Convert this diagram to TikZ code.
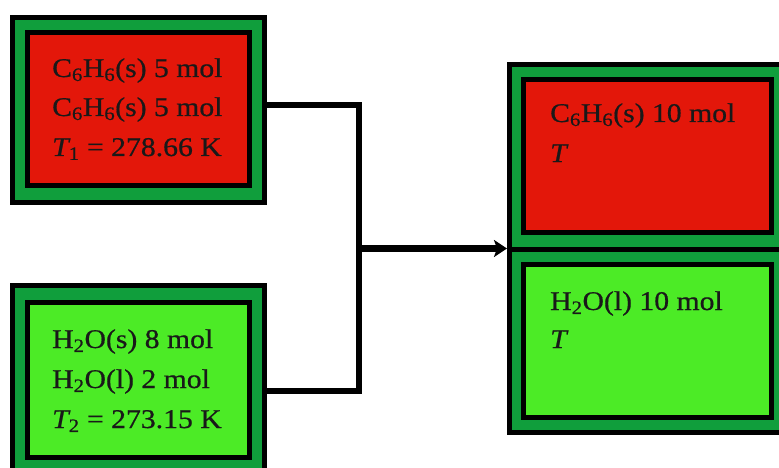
\documentclass[tikz,border=0pt]{standalone}
\usepackage{fontspec}
\setmainfont{Liberation Serif}
\newfontfamily\lblfont[FakeStretch=1.1,FakeBold=0.6]{Liberation Serif}
\usetikzlibrary{arrows.meta}
\definecolor{boxred}{HTML}{E3170A}
\definecolor{boxlime}{HTML}{4CEB26}
\definecolor{ringgreen}{HTML}{109E3C}
\begin{document}
\begin{tikzpicture}[x=1pt,y=-1pt,
  frame/.style={draw=black, line width=5pt, fill=ringgreen, rectangle, inner sep=0pt},
  core/.style={draw=black, line width=5pt, rectangle, inner sep=0pt},
  lbl/.style={anchor=base west, inner sep=0pt, font=\lblfont\fontsize{27}{32}\selectfont, text=black!90},
  link/.style={line width=6.5pt, line join=miter}]
\useasboundingbox (0,0) rectangle (779,468);
\clip (0,0) rectangle (779,468);
% left boxes
\node[frame, minimum width=252pt, minimum height=185pt] (tlo) at (138.5,110) {};
\node[core, fill=boxred, minimum width=222pt, minimum height=153pt] (tli) at (138.5,109) {};
\node[frame, minimum width=252pt, minimum height=192.5pt] (blo) at (138.5,381.75) {};
\node[core, fill=boxlime, minimum width=222pt, minimum height=155pt] (bli) at (138.5,380) {};
% right boxes
\node[frame, minimum width=278.5pt, minimum height=184.5pt] (tro) at (648.75,156.75) {};
\node[core, fill=boxred, minimum width=247.5pt, minimum height=153pt] (tri) at (647.25,156) {};
\node[frame, minimum width=278.5pt, minimum height=183.5pt] (bro) at (648.75,340.75) {};
\node[core, fill=boxlime, minimum width=247.5pt, minimum height=153pt] (bri) at (647.25,341) {};
% connectors
\coordinate (jt) at (359,105);
\coordinate (jb) at (359,391);
\coordinate (jm) at (359,248.5);
\draw[link] (tlo.east |- jt) -- (jt) -- (jb) -- (blo.east |- jb);
\draw[link, -{Stealth[length=13pt, width=17pt, inset=3pt]}] (jm) -- (jm -| tro.west);
% labels
\node[lbl] (t1) at (52,77) {C\textsubscript{6}H\textsubscript{6}(s) 5 mol};
\node[lbl] (t2) at (52,116) {C\textsubscript{6}H\textsubscript{6}(s) 5 mol};
\node[lbl] (t3) at (52,156) {{\itshape T}\textsubscript{1} = 278.66 K};
\node[lbl] (b1) at (52,348) {H\textsubscript{2}O(s) 8 mol};
\node[lbl] (b2) at (52,388) {H\textsubscript{2}O(l) 2 mol};
\node[lbl] (b3) at (52,428) {{\itshape T}\textsubscript{2} = 273.15 K};
\node[lbl] (r1) at (550,122) {C\textsubscript{6}H\textsubscript{6}(s) 10 mol};
\node[lbl] (r2) at (550,162) {\itshape T};
\node[lbl] (s1) at (550,310) {H\textsubscript{2}O(l) 10 mol};
\node[lbl] (s2) at (550,348) {\itshape T};
\end{tikzpicture}
\end{document}
